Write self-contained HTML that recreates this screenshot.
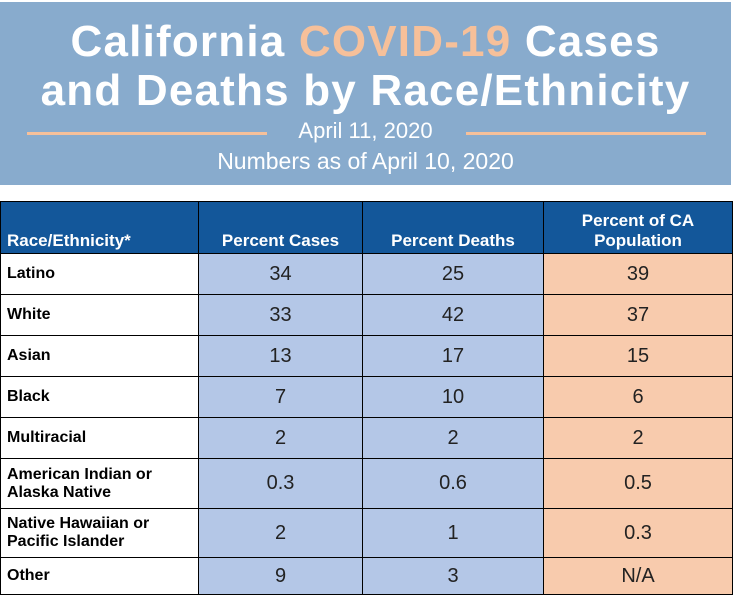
<!DOCTYPE html>
<html><head><style>
body{margin:0;width:734px;height:597px;background:#fff;position:relative;overflow:hidden;font-family:"Liberation Sans",sans-serif}
#hd{position:absolute;left:0;top:2px;width:731px;height:183px;background:#88abcd}
.t{position:absolute;left:0;width:731px;text-align:center;color:#fff;font-weight:bold;font-size:44px;letter-spacing:1.2px}
.o{color:#f6c09a}
.ln{position:absolute;height:3px;background:#f6c09a;top:132px}
.s{position:absolute;left:0;width:731px;text-align:center;color:#fff}
table{position:absolute;left:0;top:201px;border-collapse:collapse;table-layout:fixed}
td{border:1.5px solid #000;padding:0;font-size:20px;text-align:center;color:#222}
td.l{text-align:left;padding-left:6px;font-weight:bold;font-size:16px;color:#000;background:#fff;line-height:18px}
tr.h td{background:#13579a;color:#fff;font-weight:bold;font-size:17px;vertical-align:bottom;padding-bottom:2px;line-height:20px}
td.b{background:#b4c7e7}td.p{background:#f8cbad}
</style></head><body>
<div id="hd"></div>
<div class="t" style="top:17px">California <span class="o">COVID-19</span> Cases</div>
<div class="t" style="top:66px">and Deaths by Race/Ethnicity</div>
<div class="ln" style="left:27px;width:240px"></div>
<div class="ln" style="left:466px;width:240px"></div>
<div class="s" style="top:118px;font-size:22px">April 11, 2020</div>
<div class="s" style="top:148px;font-size:23px">Numbers as of April 10, 2020</div>
<table>
<colgroup><col style="width:198px"><col style="width:164px"><col style="width:181px"><col style="width:189px"></colgroup>
<tr class="h" style="height:52px"><td class="l" style="background:#13579a;color:#fff;font-size:17px">Race/Ethnicity*</td><td>Percent Cases</td><td>Percent Deaths</td><td>Percent of CA<br>Population</td></tr>
<tr style="height:41px"><td class="l">Latino</td><td class="b">34</td><td class="b">25</td><td class="p">39</td></tr>
<tr style="height:41px"><td class="l">White</td><td class="b">33</td><td class="b">42</td><td class="p">37</td></tr>
<tr style="height:41px"><td class="l">Asian</td><td class="b">13</td><td class="b">17</td><td class="p">15</td></tr>
<tr style="height:41px"><td class="l">Black</td><td class="b">7</td><td class="b">10</td><td class="p">6</td></tr>
<tr style="height:41px"><td class="l">Multiracial</td><td class="b">2</td><td class="b">2</td><td class="p">2</td></tr>
<tr style="height:50px"><td class="l">American Indian or<br>Alaska Native</td><td class="b">0.3</td><td class="b">0.6</td><td class="p">0.5</td></tr>
<tr style="height:49px"><td class="l">Native Hawaiian or<br>Pacific Islander</td><td class="b">2</td><td class="b">1</td><td class="p">0.3</td></tr>
<tr style="height:37px"><td class="l">Other</td><td class="b">9</td><td class="b">3</td><td class="p">N/A</td></tr>
</table>
</body></html>
